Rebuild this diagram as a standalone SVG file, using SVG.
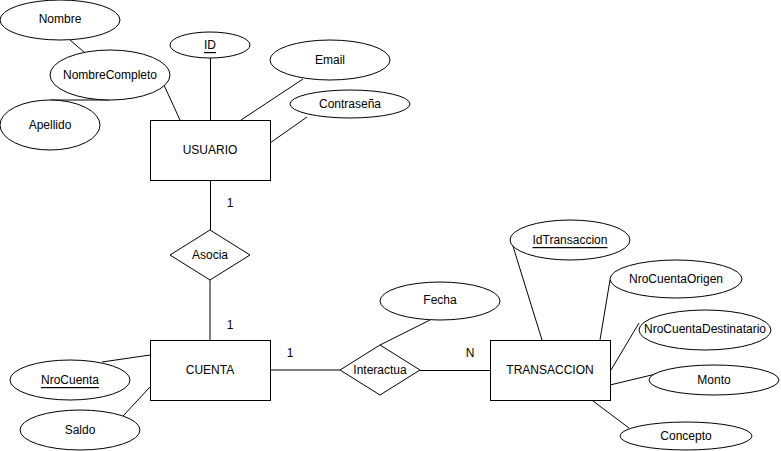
<svg xmlns="http://www.w3.org/2000/svg" width="781" height="451" viewBox="0 0 781 451">
<style>
.s{fill:#fff;stroke:#000;stroke-width:1}
.t{font-family:"Liberation Sans",Arial,sans-serif;font-size:12px;fill:#000;text-anchor:middle;dominant-baseline:central}
.u{text-decoration:underline}
.c line{stroke:#000;stroke-width:1}
</style>
<rect width="781" height="451" fill="#fff"/>
<g id="connectors" class="c">
<line x1="70" y1="40" x2="84" y2="52"/>
<line x1="50" y1="100" x2="110" y2="100"/>
<line x1="163" y1="83" x2="180" y2="120"/>
<line x1="210.5" y1="58" x2="210.5" y2="120"/>
<line x1="303" y1="79" x2="241" y2="120"/>
<line x1="307" y1="117" x2="270" y2="143"/>
<line x1="210.5" y1="180" x2="210.5" y2="230"/>
<line x1="210" y1="280" x2="210" y2="340"/>
<line x1="102" y1="362" x2="150" y2="355"/>
<line x1="123" y1="416" x2="150" y2="387"/>
<line x1="270" y1="370" x2="340" y2="370"/>
<line x1="420" y1="370.5" x2="490" y2="370.5"/>
<line x1="430" y1="320" x2="380" y2="345"/>
<line x1="512" y1="243" x2="542" y2="340"/>
<line x1="610" y1="280" x2="600" y2="340"/>
<line x1="639" y1="323" x2="611" y2="370"/>
<line x1="660" y1="373" x2="610" y2="385"/>
<line x1="629" y1="428" x2="589" y2="398"/>
</g>
<g id="labels" class="t-group">
<text class="t" x="230" y="203">1</text>
<text class="t" x="230" y="325">1</text>
<text class="t" x="290" y="353">1</text>
<text class="t" x="470" y="353">N</text>
</g>
<g id="usuario"><rect class="s" x="150.5" y="120.5" width="120" height="60"/><text class="t" x="210" y="150">USUARIO</text></g>
<g id="nombre"><ellipse class="s" cx="60" cy="20" rx="60" ry="20"/><text class="t" x="60" y="19">Nombre</text></g>
<g id="nombreCompleto"><ellipse class="s" cx="110" cy="75" rx="60" ry="25"/><text class="t" x="110" y="75">NombreCompleto</text></g>
<g id="apellido"><ellipse class="s" cx="50" cy="125" rx="50" ry="25"/><text class="t" x="50" y="125">Apellido</text></g>
<g id="id"><ellipse class="s" cx="210" cy="45" rx="40" ry="13"/><text class="t u" x="210" y="45">ID</text></g>
<g id="email"><ellipse class="s" cx="330" cy="60" rx="60" ry="20"/><text class="t" x="330" y="60">Email</text></g>
<g id="contrasena"><ellipse class="s" cx="350" cy="104" rx="60" ry="14"/><text class="t" x="350" y="104">Contraseña</text></g>
<g id="asocia"><polygon class="s" points="210,230 250,255 210,280 170,255"/><text class="t" x="210" y="255">Asocia</text></g>
<g id="cuenta"><rect class="s" x="150.5" y="340.5" width="120" height="60"/><text class="t" x="210" y="370">CUENTA</text></g>
<g id="nroCuenta"><ellipse class="s" cx="70" cy="380" rx="60" ry="20"/><text class="t u" x="70" y="380">NroCuenta</text></g>
<g id="saldo"><ellipse class="s" cx="80" cy="430" rx="60" ry="20"/><text class="t" x="80" y="430">Saldo</text></g>
<g id="interactua"><polygon class="s" points="380,345 420,370 380,395 340,370"/><text class="t" x="380" y="370">Interactua</text></g>
<g id="fecha"><ellipse class="s" cx="440" cy="301" rx="60" ry="19"/><text class="t" x="440" y="300">Fecha</text></g>
<g id="transaccion"><rect class="s" x="490.5" y="340.5" width="120" height="60"/><text class="t" x="550" y="370">TRANSACCION</text></g>
<g id="idTransaccion"><ellipse class="s" cx="570" cy="240" rx="60" ry="20"/><text class="t u" x="570" y="240">IdTransaccion</text></g>
<g id="nroCuentaOrigen"><ellipse class="s" cx="676" cy="279" rx="66" ry="19"/><text class="t" x="676" y="279">NroCuentaOrigen</text></g>
<g id="nroCuentaDestinatario"><ellipse class="s" cx="705" cy="330" rx="66" ry="20"/><text class="t" x="705" y="329">NroCuentaDestinatario</text></g>
<g id="monto"><ellipse class="s" cx="714" cy="380" rx="65" ry="15"/><text class="t" x="714" y="380">Monto</text></g>
<g id="concepto"><ellipse class="s" cx="686" cy="436" rx="66" ry="14"/><text class="t" x="686" y="436">Concepto</text></g>
</svg>
